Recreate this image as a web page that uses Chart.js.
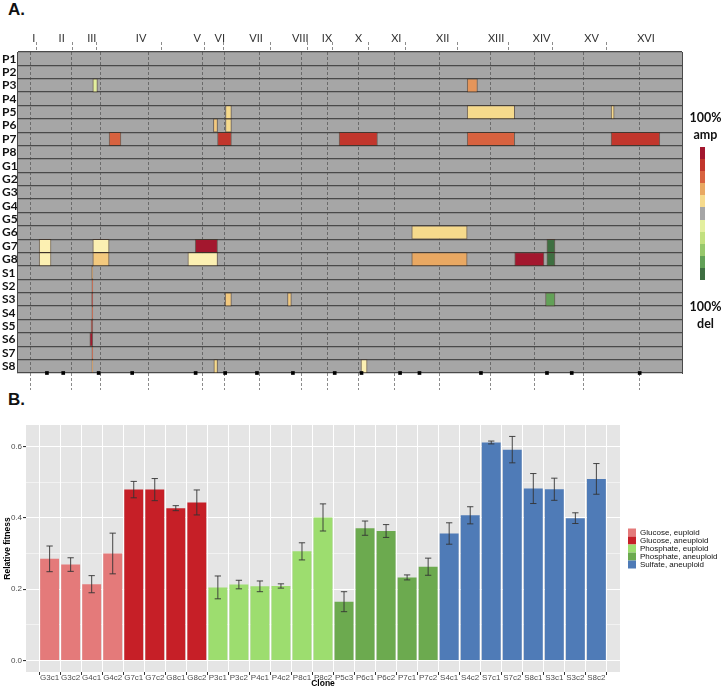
<!DOCTYPE html>
<html>
<head>
<meta charset="utf-8">
<script src="https://cdn.jsdelivr.net/npm/chart.js@4.4.0/dist/chart.umd.min.js"></script>
<style>
  body { margin: 0; width: 722px; height: 689px; background: #fff; position: relative; overflow: hidden; }
  .panel { position: absolute; font: bold 17px "Liberation Sans", Arial, sans-serif; color: #111; }
  #heat { position: absolute; left: 0; top: 0; }
  #fit { position: absolute; left: 0; top: 398px; }
  #scale { position: absolute; left: 700px; top: 147px; width: 5px; }
  #scale div { height: 12.1px; }
  .note { position: absolute; left: 689px; width: 33px; text-align: center; font: bold 12.5px Lato, "Open Sans", sans-serif; color: #111; line-height: 17px; }
</style>
</head>
<body>
<div class="panel" style="left:8px; top:0px;">A.</div>
<div class="panel" style="left:8px; top:390px;">B.</div>
<canvas id="heat" width="690" height="395"></canvas>
<canvas id="fit" width="722" height="291"></canvas>
<div class="note" style="top:109px;">100%<br>amp</div>
<div id="scale"></div>
<div class="note" style="top:298px;">100%<br>del</div>

<script>
// Panel A - cópias por cromossomo
const chromNames = ["I", "II", "III", "IV", "V", "VI", "VII", "VIII", "IX", "X", "XI", "XII", "XIII", "XIV", "XV", "XVI"];
const chromLengths = [230, 813, 317, 1532, 577, 270, 1091, 563, 440, 746, 667, 1078, 924, 784, 1091, 948]; // kb
const centromeres = [151, 238, 114, 449, 151, 148, 497, 105, 355, 436, 440, 150, 268, 628, 326, 556]; // kb
const strains = ["P1", "P2", "P3", "P4", "P5", "P6", "P7", "P8",
  "G1", "G2", "G3", "G4", "G5", "G6", "G7", "G8",
  "S1", "S2", "S3", "S4", "S5", "S6", "S7", "S8"];

// [linhagem, cromossomo, início kb, fim kb, nível (+5 = 100% amp, -5 = 100% del)]
const events = [
  ["P3", "III", 0, 90, -1],
  ["P3", "XIII", 0, 200, 2.5],
  ["P5", "VI", 155, 270, 1],
  ["P5", "XIII", 0, 924, 1],
  ["P5", "XVI", 0, 60, 1],
  ["P6", "V", 497, 577, 1.5],
  ["P6", "VI", 155, 270, 1],
  ["P7", "IV", 0, 230, 3],
  ["P7", "VI", 0, 270, 4],
  ["P7", "X", 0, 746, 4],
  ["P7", "XIII", 0, 924, 3],
  ["P7", "XVI", 0, 948, 4],
  ["G6", "XII", 0, 1078, 1],
  ["G7", "I", 0, 230, 0.5],
  ["G7", "III", 0, 317, 0.5],
  ["G7", "V", 143, 577, 5],
  ["G7", "XIV", 626, 784, -5],
  ["G8", "I", 0, 230, 0.5],
  ["G8", "III", 0, 317, 1.5],
  ["G8", "V", 0, 577, 0.5],
  ["G8", "XII", 0, 1078, 2],
  ["G8", "XIV", 0, 570, 5],
  ["G8", "XIV", 626, 784, -5],
  ["S1", "II", 790, 813, 2],
  ["S2", "II", 795, 813, 3],
  ["S3", "II", 790, 813, 4],
  ["S3", "VI", 148, 270, 1.5],
  ["S3", "VIII", 0, 75, 1.5],
  ["S3", "XIV", 600, 784, -4],
  ["S4", "II", 795, 813, 3],
  ["S5", "II", 780, 813, 4],
  ["S6", "II", 755, 813, 5],
  ["S7", "II", 795, 813, 3],
  ["S8", "II", 795, 813, 2],
  ["S8", "V", 505, 577, 1],
  ["S8", "X", 425, 545, 0.5],
];

const levels = [5, 4, 3, 2, 1, 0, -1, -2, -3, -4, -5];
const levelColors = {
  5: "#a3172e", 4: "#c2362c", 3: "#d8623f", 2.5: "#e5955a", 2: "#e9a862",
  1.5: "#f3c97e", 1: "#f6da8c", 0.5: "#fcf0b2", 0: "#a6a6a6",
  "-1": "#e3ef9e", "-2": "#c2e07e", "-3": "#97c86b", "-4": "#62a157", "-5": "#3e6f41",
};

// Panel B - fitness relativo
const clones = ["G3c1", "G3c2", "G4c1", "G4c2", "G7c1", "G7c2", "G8c1", "G8c2",
  "P3c1", "P3c2", "P4c1", "P4c2", "P8c1", "P8c2",
  "P5c3", "P6c1", "P6c2", "P7c1", "P7c2",
  "S4c1", "S4c2", "S7c1", "S7c2", "S8c1", "S3c1", "S3c2", "S8c2"];
const fitness = [0.285, 0.269, 0.214, 0.300, 0.479, 0.479, 0.427, 0.443,
  0.205, 0.213, 0.208, 0.209, 0.306, 0.401,
  0.165, 0.371, 0.363, 0.233, 0.263,
  0.356, 0.407, 0.611, 0.591, 0.482, 0.480, 0.399, 0.509];
const fitnessErr = [0.036, 0.019, 0.024, 0.057, 0.023, 0.031, 0.007, 0.035,
  0.032, 0.012, 0.015, 0.006, 0.024, 0.038,
  0.028, 0.020, 0.018, 0.007, 0.024,
  0.030, 0.024, 0.004, 0.037, 0.042, 0.031, 0.015, 0.043];
const cloneGroup = [0, 0, 0, 0, 1, 1, 1, 1, 2, 2, 2, 2, 2, 2, 3, 3, 3, 3, 3, 4, 4, 4, 4, 4, 4, 4, 4];
const groupNames = ["Glucose, euploid", "Glucose, aneuploid", "Phosphate, euploid", "Phosphate, aneuploid", "Sulfate, aneuploid"];
const groupColors = ["#e47a7a", "#c61f27", "#9ddd6f", "#6caa4f", "#4f7bb7"];
const fitnessMajor = [0, 0.2, 0.4, 0.6];
const fitnessMinor = [0.1, 0.3, 0.5];

// Coordenadas do genoma
const chromStart = [];
let genomeLength = 0;
chromLengths.forEach((l) => {
  chromStart.push(genomeLength);
  genomeLength += l;
});
const boundaries = chromStart.slice(1);
const mids = chromStart.map((s, k) => s + chromLengths[k] / 2);
const topTicks = boundaries.concat(mids).sort((a, b) => a - b);

function shade(level) {
  return levelColors[level];
}

// Barra de cores
const scaleBox = document.getElementById("scale");
levels.forEach((lv) => {
  const d = document.createElement("div");
  d.style.background = shade(lv);
  scaleBox.appendChild(d);
});

const plotBg = (color) => ({
  id: "plotBg",
  beforeDraw(chart) {
    const { ctx, chartArea: a } = chart;
    ctx.save();
    ctx.fillStyle = color;
    ctx.fillRect(a.left, a.top, a.right - a.left, a.bottom - a.top);
    ctx.restore();
  },
});

new Chart(document.getElementById("heat"), {
  type: "bar",
  data: {
    datasets: [
      {
        type: "scatter",
        data: centromeres.map((c, k) => ({ x: chromStart[k] + c, y: 0 })),
        xAxisID: "x",
        yAxisID: "y2",
        pointStyle: "rect",
        pointRadius: 2.6,
        backgroundColor: "#000",
        borderWidth: 0,
        clip: false,
      },
      {
        indexAxis: "y",
        data: events.map(([s, c, a, b, lv]) => {
          const k = chromNames.indexOf(c);
          return { y: s, x: [chromStart[k] + a, chromStart[k] + b], level: lv };
        }),
        xAxisID: "x",
        yAxisID: "y",
        backgroundColor: (ctx) => shade(ctx.raw ? ctx.raw.level : 0),
        borderColor: "rgba(60,40,25,0.55)",
        borderWidth: 1,
        borderSkipped: false,
        grouped: false,
        barPercentage: 1,
        categoryPercentage: 1,
      },
    ],
  },
  options: {
    responsive: false,
    animation: false,
    layout: { padding: { left: 2, right: 8, top: 30, bottom: 2 } },
    plugins: { legend: { display: false }, tooltip: { enabled: false } },
    scales: {
      x: {
        type: "linear",
        position: "bottom",
        min: 0,
        max: genomeLength,
        afterBuildTicks: (s) => { s.ticks = boundaries.map((v) => ({ value: v })); },
        afterFit: (s) => { s.height = 20; },
        ticks: { display: false },
        grid: { color: "#6a6a6a", lineWidth: 1, tickLength: 17, tickColor: "#8c8c8c", tickBorderDash: [3, 2] },
        border: { display: false, dash: [3, 2] },
      },
      xTop: {
        type: "linear",
        position: "top",
        min: 0,
        max: genomeLength,
        afterBuildTicks: (s) => { s.ticks = topTicks.map((v) => ({ value: v })); },
        afterFit: (s) => { s.height = 22; },
        ticks: {
          autoSkip: false,
          maxRotation: 0,
          padding: -3,
          color: "#333",
          font: { family: "Lato, 'Open Sans', sans-serif", size: 11 },
          callback: (v) => {
            const k = mids.indexOf(v);
            return k >= 0 ? chromNames[k] : "";
          },
        },
        grid: {
          drawOnChartArea: false,
          tickLength: 10,
          tickBorderDash: [3, 2],
          color: (c) => (boundaries.includes(c.tick && c.tick.value) ? "#8c8c8c" : "rgba(0,0,0,0)"),
          tickColor: (c) => (boundaries.includes(c.tick && c.tick.value) ? "#8c8c8c" : "rgba(0,0,0,0)"),
        },
        border: { display: false },
      },
      y: {
        type: "category",
        labels: strains,
        position: "left",
        offset: true,
        z: 1,
        afterFit: (s) => { s.width = 15; },
        ticks: {
          autoSkip: false,
          crossAlign: "far",
          color: "#111",
          font: { family: "Lato, 'Open Sans', sans-serif", size: 12, weight: "bold" },
        },
        grid: { offset: true, color: "#4a4a4a", lineWidth: 1.3, drawTicks: false },
        border: { color: "#4a4a4a", width: 1 },
      },
      y2: {
        type: "linear",
        position: "right",
        min: 0,
        max: 1,
        z: 1,
        afterFit: (s) => { s.width = 0; },
        ticks: { display: false },
        grid: { drawOnChartArea: false, drawTicks: false },
        border: { color: "#4a4a4a", width: 1 },
      },
    },
  },
  plugins: [plotBg("#a6a6a6")],
});

// Barras de erro
const errorBars = {
  id: "errorBars",
  afterDatasetsDraw(chart) {
    const { ctx, scales } = chart;
    const xs = scales.x;
    const ys = scales.y;
    const cap = xs.getPixelForValue(0.15) - xs.getPixelForValue(0);
    ctx.save();
    ctx.strokeStyle = "#333";
    ctx.lineWidth = 0.9;
    clones.forEach((c, i) => {
      const x = xs.getPixelForValue(i);
      const top = ys.getPixelForValue(fitness[i] + fitnessErr[i]);
      const bot = ys.getPixelForValue(fitness[i] - fitnessErr[i]);
      ctx.beginPath();
      ctx.moveTo(x, top);
      ctx.lineTo(x, bot);
      ctx.moveTo(x - cap, top);
      ctx.lineTo(x + cap, top);
      ctx.moveTo(x - cap, bot);
      ctx.lineTo(x + cap, bot);
      ctx.stroke();
    });
    ctx.restore();
  },
};

const smallFont = "'Liberation Sans', Arial, sans-serif";

new Chart(document.getElementById("fit"), {
  type: "bar",
  data: {
    datasets: groupNames.map((name, g) => ({
      label: name,
      data: clones
        .map((c, i) => ({ x: i, y: fitness[i] }))
        .filter((p, i) => cloneGroup[i] === g),
      backgroundColor: groupColors[g],
      borderWidth: 0,
      grouped: false,
      barPercentage: 0.9,
      categoryPercentage: 1,
    })),
  },
  options: {
    responsive: false,
    animation: false,
    layout: { padding: { left: 3, right: 2, top: 27, bottom: 0 } },
    plugins: {
      tooltip: { enabled: false },
      legend: {
        position: "right",
        fullSize: false,
        maxWidth: 92,
        labels: {
          boxWidth: 8,
          boxHeight: 8,
          padding: 0,
          color: "#111",
          font: { family: smallFont, size: 8 },
        },
      },
    },
    scales: {
      x: {
        type: "linear",
        min: -0.6,
        max: clones.length - 0.4,
        afterBuildTicks: (s) => { s.ticks = clones.map((c, i) => ({ value: i })); },
        afterFit: (s) => { s.height = 17; },
        ticks: {
          autoSkip: false,
          maxRotation: 0,
          minRotation: 0,
          padding: -2,
          color: "#4d4d4d",
          font: { family: smallFont, size: 8 },
          callback: (v) => clones[v],
        },
        grid: { color: "#fff", lineWidth: 1, tickLength: 3, tickColor: "#333" },
        border: { display: false },
        title: { display: true, text: "Clone", color: "#000", font: { family: smallFont, size: 8.5, weight: "bold" }, padding: { top: 0, bottom: 0 } },
      },
      y: {
        type: "linear",
        min: -0.032,
        max: 0.66,
        afterBuildTicks: (s) => {
          s.ticks = fitnessMajor.concat(fitnessMinor).sort((a, b) => a - b).map((v) => ({ value: v }));
        },
        afterFit: (s) => { s.width = 23; },
        ticks: {
          padding: 1,
          color: "#4d4d4d",
          font: { family: smallFont, size: 8 },
          callback: (v) => (fitnessMajor.includes(v) ? v.toFixed(1) : ""),
        },
        grid: {
          color: "#fff",
          lineWidth: (c) => (fitnessMajor.includes(c.tick && c.tick.value) ? 1.1 : 0.5),
          tickLength: 3,
          tickColor: (c) => (fitnessMajor.includes(c.tick && c.tick.value) ? "#333" : "rgba(0,0,0,0)"),
        },
        border: { display: false },
        title: { display: true, text: "Relative fitness", color: "#000", font: { family: smallFont, size: 8.5, weight: "bold" }, padding: 0 },
      },
      spacer: {
        type: "linear",
        position: "right",
        afterFit: (s) => { s.width = 8; },
        ticks: { display: false },
        grid: { display: false },
        border: { display: false },
      },
    },
  },
  plugins: [plotBg("#e5e5e5"), errorBars],
});
</script>
</body>
</html>
